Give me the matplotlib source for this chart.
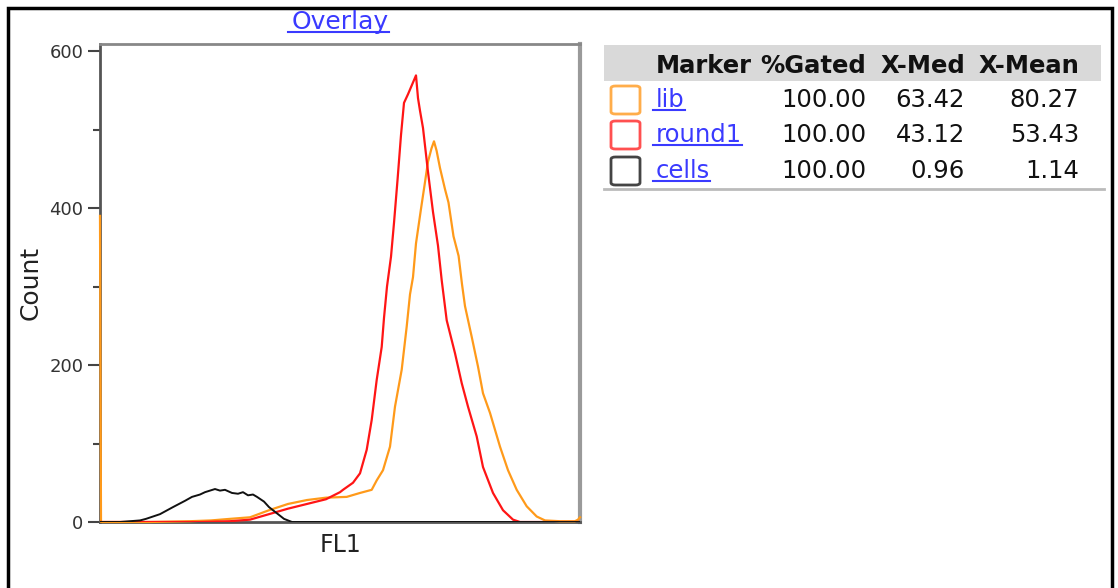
import matplotlib
matplotlib.use("Agg")
import matplotlib.pyplot as plt
from matplotlib.patches import Rectangle, FancyBboxPatch
from matplotlib.lines import Line2D

# histogram traces (x = channel 0..1024, y = count)
def px(v):
    return [(p - 100) / 480 * 1024 for p in v]

cells_x = px([100, 120, 140, 146, 160, 173, 185, 192, 200, 205, 210, 215, 220, 225, 232, 238, 243,
              248, 253, 257, 264, 269, 278, 284, 292, 580])
cells_y = [0, 0, 2, 4, 10, 19, 27, 32, 35, 38, 40, 42, 40, 41, 37, 36, 38,
           34, 35, 32, 26, 19, 10, 4, 0, 0]

round1_x = px([100, 200, 230, 250, 269, 288, 307, 326, 340, 343, 353, 360, 366.7, 371.7, 376.7, 381.7,
               384, 387, 391, 394, 397.6, 401, 404, 408, 411, 413, 416, 418, 420, 423, 428, 433,
               438, 441.7, 446.7, 455, 461.7, 468, 476.7, 483, 493, 503, 513, 520, 580])
round1_y = [0, 0, 1, 3, 10, 17, 23, 29, 38, 41, 50, 62, 92, 130, 181, 223,
            260, 300, 338, 381, 437, 493, 534, 545, 554, 560, 569, 540, 524, 502, 446, 395,
            352, 308, 257, 215, 177, 147, 109, 70, 37, 15, 3, 0, 0]

lib_x = px([100, 101, 150, 190, 211, 230, 250, 269, 288, 307, 326, 346.7, 360, 371.7, 376.7, 383,
            390, 395, 401.7, 406.7, 410, 413, 416, 421, 425, 428, 431.5, 434, 436.6, 440, 445,
            448.5, 453.5, 458.6, 462, 465, 471.7, 478, 483, 490, 500, 508, 516.7, 526.7, 536.7,
            545, 560, 575, 578, 580])
lib_y = [390, 0, 0, 1, 2, 4, 6, 15, 23, 28, 31, 32, 37, 41, 53, 66,
         96, 147, 194, 249, 290, 312, 355, 399, 433, 459, 476, 485, 473, 451, 424,
         407, 364, 339, 303, 275, 236, 198, 164, 139, 96, 66, 41, 20, 7,
         2, 1, 1, 3, 6]

markers = ["lib", "round1", "cells"]
gated = ["100.00", "100.00", "100.00"]
xmed = ["63.42", "43.12", "0.96"]
xmean = ["80.27", "53.43", "1.14"]
headers = ["Marker", "%Gated", "X-Med", "X-Mean"]

W, H = 1118, 588
fig = plt.figure(figsize=(W / 100, H / 100), dpi=100)
font = "DejaVu Sans"


def fx(p):
    return p / W


def fy(p):
    return 1 - p / H


ax = fig.add_axes([fx(100), fy(522), fx(480), 478 / H])
ax.plot(lib_x, lib_y, color="#ff9a1a", lw=1.6, zorder=2.6, clip_on=False)
ax.plot(round1_x, round1_y, color="#ff1515", lw=1.6, zorder=2.7)
ax.plot(cells_x, cells_y, color="#111111", lw=1.4, zorder=2.8)
ax.set_xlim(0, 1024)
ax.set_ylim(0, 609)
ax.set_xticks([])
ax.set_yticks([0, 200, 400, 600])
ax.set_yticks([100, 300, 500], minor=True)
ax.tick_params(axis="y", which="major", length=9, width=1.5, color="#444", labelsize=13,
               labelcolor="#333", pad=3)
ax.tick_params(axis="y", which="minor", length=5, width=1.5, color="#444")
for s, c, w in [("left", "#555555", 2), ("bottom", "#555555", 2), ("top", "#888888", 2), ("right", "#9a9a9a", 3)]:
    ax.spines[s].set_color(c)
    ax.spines[s].set_linewidth(w)
ax.set_xlabel("FL1", fontsize=17, color="#222", labelpad=8, family=font)
ax.set_ylabel("Count", fontsize=18, color="#222", labelpad=5, family=font)

# outer frame
fig.add_artist(Rectangle((fx(8), -0.02), fx(1104), fy(8) + 0.02, transform=fig.transFigure,
                         fill=False, lw=2.5, ec="black"))

underline = []
title = fig.text(fx(340), fy(22), "Overlay", ha="center", va="center", fontsize=18,
                 color="#3a3aff", family=font)
underline.append(title)

# statistics table
fig.add_artist(Rectangle((fx(604), fy(81)), fx(497), 36 / H, transform=fig.transFigure,
                         fc="#d9d9d9", ec="none"))
fig.add_artist(Line2D([fx(604), fx(1104)], [fy(189), fy(189)], transform=fig.transFigure,
                      color="#bbbbbb", lw=2))
head_right = [752, 866, 965, 1079]
for h, r in zip(headers, head_right):
    fig.text(fx(r), fy(66), h, ha="right", va="center", fontsize=17.5, fontweight="bold",
             color="#111", family=font)

box_colors = ["#ffad4a", "#ff5050", "#444444"]
row_y = [100, 135, 171]
for i, m in enumerate(markers):
    y = row_y[i]
    fig.add_artist(FancyBboxPatch((fx(611), fy(y + 14)), fx(29), 28 / H,
                                  boxstyle="round,pad=0,rounding_size=0.004",
                                  transform=fig.transFigure, fill=False,
                                  ec=box_colors[i], lw=2))
    t = fig.text(fx(656), fy(y), m, ha="left", va="center", fontsize=17.5, color="#3a3aff", family=font)
    underline.append(t)
    fig.text(fx(866), fy(y), gated[i], ha="right", va="center", fontsize=17.5, color="#111", family=font)
    fig.text(fx(965), fy(y), xmed[i], ha="right", va="center", fontsize=17.5, color="#111", family=font)
    fig.text(fx(1079), fy(y), xmean[i], ha="right", va="center", fontsize=17.5, color="#111", family=font)

# underline the link-style labels
fig.canvas.draw()
renderer = fig.canvas.get_renderer()
for t in underline:
    bb = t.get_window_extent(renderer)
    yline = bb.y0 + 2
    fig.add_artist(Line2D([bb.x0 / W - 0.003, bb.x1 / W], [yline / H, yline / H],
                          transform=fig.transFigure, color=t.get_color(), lw=1.5))

fig.savefig("out.png", dpi=100)
